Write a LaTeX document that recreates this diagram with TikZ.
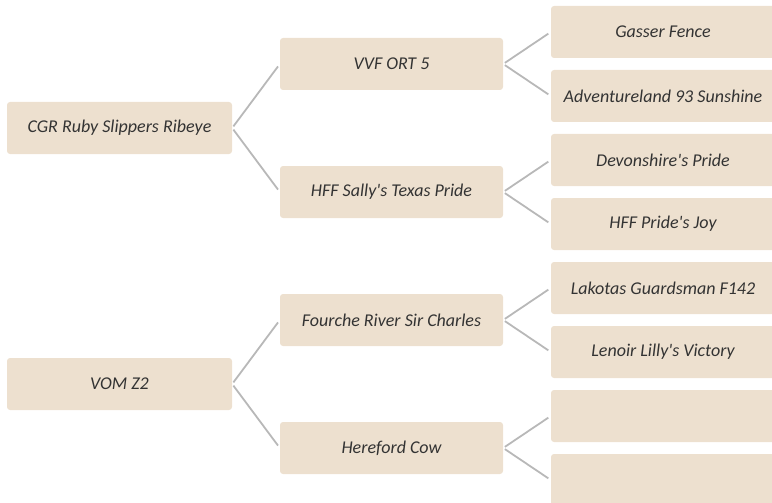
\documentclass[tikz,border=0pt]{standalone}
\usepackage{fontspec}
\setmainfont{Carlito}
\definecolor{boxfill}{HTML}{EDE0CF}
\definecolor{linec}{HTML}{B8B8B8}
\definecolor{txt}{HTML}{333333}
\newcommand{\sq}{\textquotesingle}
\begin{document}
\begin{tikzpicture}[x=1pt,y=-1pt,
  box/.style={fill=boxfill,rounded corners=3pt,minimum width=224pt,minimum height=52pt,inner sep=0pt,font=\fontsize{18}{21}\selectfont\itshape,text=txt},
  conn/.style={draw=linec,line width=1.8pt,shorten <=2pt,shorten >=3pt}]
\useasboundingbox (0,0) rectangle (772,503);
% level 1
\node[box,minimum width=225pt] (r1) at (119.5,128) {CGR Ruby Slippers Ribeye};
\node[box,minimum width=225pt] (r2) at (119.5,384) {VOM Z2};
% level 2
\node[box,minimum width=223pt] (a) at (391.5,64) {VVF ORT 5};
\node[box,minimum width=223pt] (b) at (391.5,192) {HFF Sally\sq s Texas Pride};
\node[box,minimum width=223pt] (c) at (391.5,320) {Fourche River Sir Charles};
\node[box,minimum width=223pt] (d) at (391.5,448) {Hereford Cow};
% level 3
\node[box] (a1) at (663,32) {Gasser Fence};
\node[box] (a2) at (663,96) {Adventureland 93 Sunshine};
\node[box] (b1) at (663,160) {Devonshire\sq s Pride};
\node[box] (b2) at (663,224) {HFF Pride\sq s Joy};
\node[box] (c1) at (663,288) {Lakotas Guardsman F142};
\node[box] (c2) at (663,352) {Lenoir Lilly\sq s Victory};
\node[box] (d1) at (663,416) {};
\node[box] (d2) at (663,480) {};
% connectors
\draw[conn] (r1.east) -- (a.west);
\draw[conn] (r1.east) -- (b.west);
\draw[conn] (r2.east) -- (c.west);
\draw[conn] (r2.east) -- (d.west);
\draw[conn] (a.east) -- (a1.west);
\draw[conn] (a.east) -- (a2.west);
\draw[conn] (b.east) -- (b1.west);
\draw[conn] (b.east) -- (b2.west);
\draw[conn] (c.east) -- (c1.west);
\draw[conn] (c.east) -- (c2.west);
\draw[conn] (d.east) -- (d1.west);
\draw[conn] (d.east) -- (d2.west);
\end{tikzpicture}
\end{document}
